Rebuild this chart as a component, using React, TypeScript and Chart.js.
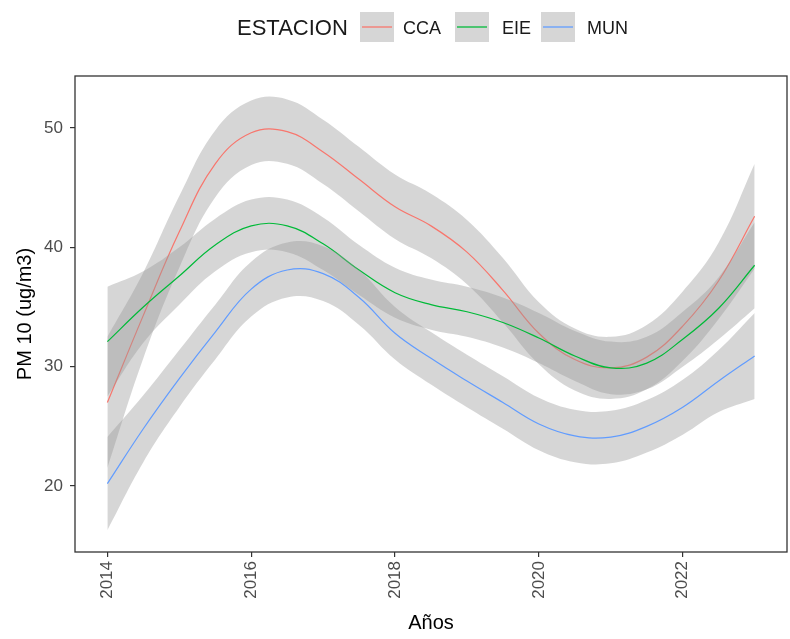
import React, { useEffect, useRef } from 'react';
import { Chart, registerables } from 'chart.js';

Chart.register(...registerables);

// ---- Data ----
const years = [2014, 2014.5, 2015, 2015.5, 2016, 2016.5, 2017, 2017.5, 2018, 2018.5, 2019, 2019.5, 2020, 2020.5, 2021, 2021.5, 2022, 2022.5, 2023];

const seriesNames = ['CCA', 'EIE', 'MUN'];
const seriesColors = ['#F8766D', '#00BA38', '#619CFF'];

const ccaMean = [27.0, 34.3, 41.3, 47.0, 49.6, 49.7, 48.0, 45.7, 43.4, 41.8, 39.6, 36.4, 32.8, 30.6, 29.9, 30.8, 33.4, 37.2, 42.6];
const ccaLow = [21.5, 30.7, 38.3, 44.2, 46.9, 47.0, 45.3, 43.0, 40.7, 39.1, 36.9, 33.7, 30.2, 28.0, 27.3, 28.1, 30.5, 34.0, 38.2];
const ccaHigh = [32.5, 37.9, 44.3, 49.8, 52.3, 52.4, 50.7, 48.4, 46.1, 44.5, 42.3, 39.1, 35.4, 33.2, 32.5, 33.5, 36.3, 40.4, 47.0];

const eieMean = [32.1, 35.0, 37.6, 40.2, 41.8, 41.8, 40.3, 38.1, 36.2, 35.2, 34.6, 33.7, 32.4, 30.9, 29.9, 30.3, 32.3, 34.9, 38.5];
const eieLow = [27.5, 32.0, 35.2, 38.0, 39.6, 39.6, 38.1, 36.0, 34.1, 33.1, 32.5, 31.6, 30.3, 28.8, 27.7, 28.1, 30.0, 32.3, 34.9];
const eieHigh = [36.7, 38.0, 40.0, 42.4, 44.0, 44.0, 42.5, 40.2, 38.3, 37.3, 36.7, 35.8, 34.5, 33.0, 32.1, 32.5, 34.6, 37.5, 42.1];

const munMean = [20.2, 24.8, 29.0, 32.9, 36.5, 38.1, 37.8, 35.8, 32.8, 30.7, 28.8, 27.0, 25.2, 24.2, 24.1, 25.0, 26.6, 28.8, 30.9];
const munLow = [16.3, 22.0, 26.6, 30.6, 34.2, 35.8, 35.5, 33.5, 30.6, 28.5, 26.6, 24.8, 23.0, 22.0, 21.9, 22.8, 24.3, 26.2, 27.3];
const munHigh = [24.1, 27.6, 31.4, 35.2, 38.8, 40.4, 40.1, 38.1, 35.0, 32.9, 31.0, 29.2, 27.4, 26.4, 26.3, 27.2, 28.9, 31.4, 34.5];

const xTicks = [2014, 2016, 2018, 2020, 2022];
const yTicks = [20, 30, 40, 50];

const legendTitle = 'ESTACION';
const xTitle = 'Años';
const yTitle = 'PM 10 (ug/m3)';

const FONT = "'Liberation Sans', Arial, sans-serif";
const BAND = 'rgba(153,153,153,0.4)';

const toPts = (arr: number[]) => years.map((x, i) => ({ x, y: arr[i] }));

const panelBorder = {
  id: 'panelBorder',
  afterDraw(chart: any) {
    const { ctx, chartArea: a } = chart;
    ctx.save();
    ctx.strokeStyle = '#333333';
    ctx.lineWidth = 1.3;
    ctx.strokeRect(a.left, a.top, a.right - a.left, a.bottom - a.top);
    ctx.restore();
  },
};

const ggLegend = {
  id: 'ggLegend',
  afterDraw(chart: any) {
    const { ctx } = chart;
    ctx.save();
    ctx.textBaseline = 'alphabetic';
    ctx.fillStyle = '#1a1a1a';
    ctx.font = `22px ${FONT}`;
    ctx.fillText(legendTitle, 237, 35);
    const boxX = [360, 455, 541];
    const textX = [403, 502, 587];
    seriesNames.forEach((name, i) => {
      ctx.fillStyle = '#d6d6d6';
      ctx.fillRect(boxX[i], 12, 34, 30);
      ctx.strokeStyle = seriesColors[i];
      ctx.lineWidth = 1.3;
      ctx.beginPath();
      ctx.moveTo(boxX[i] + 2, 27);
      ctx.lineTo(boxX[i] + 32, 27);
      ctx.stroke();
      ctx.fillStyle = '#1a1a1a';
      ctx.font = `18px ${FONT}`;
      ctx.fillText(name, textX[i], 34);
    });
    ctx.restore();
  },
};

export default function App() {
  const ref = useRef<HTMLCanvasElement>(null);

  useEffect(() => {
    if (!ref.current) return;
    const groups = [
      [ccaMean, ccaLow, ccaHigh],
      [eieMean, eieLow, eieHigh],
      [munMean, munLow, munHigh],
    ];
    const datasets: any[] = [];
    groups.forEach(([mean, low, high], i) => {
      const base = (3 - i) * 2;
      datasets.push({
        label: seriesNames[i] + ' low',
        data: toPts(low),
        borderWidth: 0,
        pointRadius: 0,
        fill: false,
        tension: 0.4,
        order: base,
      });
      datasets.push({
        label: seriesNames[i] + ' high',
        data: toPts(high),
        borderWidth: 0,
        pointRadius: 0,
        backgroundColor: BAND,
        fill: '-1',
        tension: 0.4,
        order: base,
      });
      datasets.push({
        label: seriesNames[i],
        data: toPts(mean),
        borderColor: seriesColors[i],
        borderWidth: 1.2,
        pointRadius: 0,
        fill: false,
        tension: 0.4,
        order: base - 1,
      });
    });

    const tickFont = { family: FONT, size: 17 };
    const chart = new Chart(ref.current, {
      type: 'line',
      data: { datasets },
      plugins: [panelBorder, ggLegend],
      options: {
        responsive: false,
        animation: false,
        layout: { padding: { top: 76, right: 3, left: 0, bottom: 0 } },
        plugins: {
          legend: { display: false },
          tooltip: { enabled: false },
        },
        scales: {
          x: {
            type: 'linear',
            min: 2013.55,
            max: 2023.45,
            afterBuildTicks: (s: any) => {
              s.ticks = xTicks.map((v) => ({ value: v }));
            },
            afterFit: (s: any) => {
              s.height = 87;
            },
            ticks: {
              autoSkip: false,
              minRotation: 90,
              maxRotation: 90,
              font: tickFont,
              color: '#4D4D4D',
              padding: 4,
              callback: (v: any) => String(v),
            },
            grid: {
              display: true,
              drawOnChartArea: false,
              drawTicks: true,
              tickLength: 5,
              color: '#333333',
              lineWidth: 1.2,
            },
            border: { display: false },
            title: {
              display: true,
              text: xTitle,
              color: '#000000',
              font: { family: FONT, size: 20 },
              padding: { top: 0, bottom: 4 },
            },
          },
          y: {
            type: 'linear',
            min: 14.47,
            max: 54.36,
            afterBuildTicks: (s: any) => {
              s.ticks = yTicks.map((v) => ({ value: v }));
            },
            afterFit: (s: any) => {
              s.width = 75;
            },
            ticks: {
              font: tickFont,
              color: '#4D4D4D',
              padding: 7,
              callback: (v: any) => String(v),
            },
            grid: {
              display: true,
              drawOnChartArea: false,
              drawTicks: true,
              tickLength: 5,
              color: '#333333',
              lineWidth: 1.2,
            },
            border: { display: false },
            title: {
              display: true,
              text: yTitle,
              color: '#000000',
              font: { family: FONT, size: 20 },
              padding: { top: 13, bottom: 0 },
            },
          },
        },
      },
    } as any);
    return () => chart.destroy();
  }, []);

  return (
    <div style={{ position: 'absolute', left: 0, top: 0, width: 790, height: 639, background: '#ffffff' }}>
      <canvas ref={ref} width={790} height={639} style={{ display: 'block' }} />
    </div>
  );
}
